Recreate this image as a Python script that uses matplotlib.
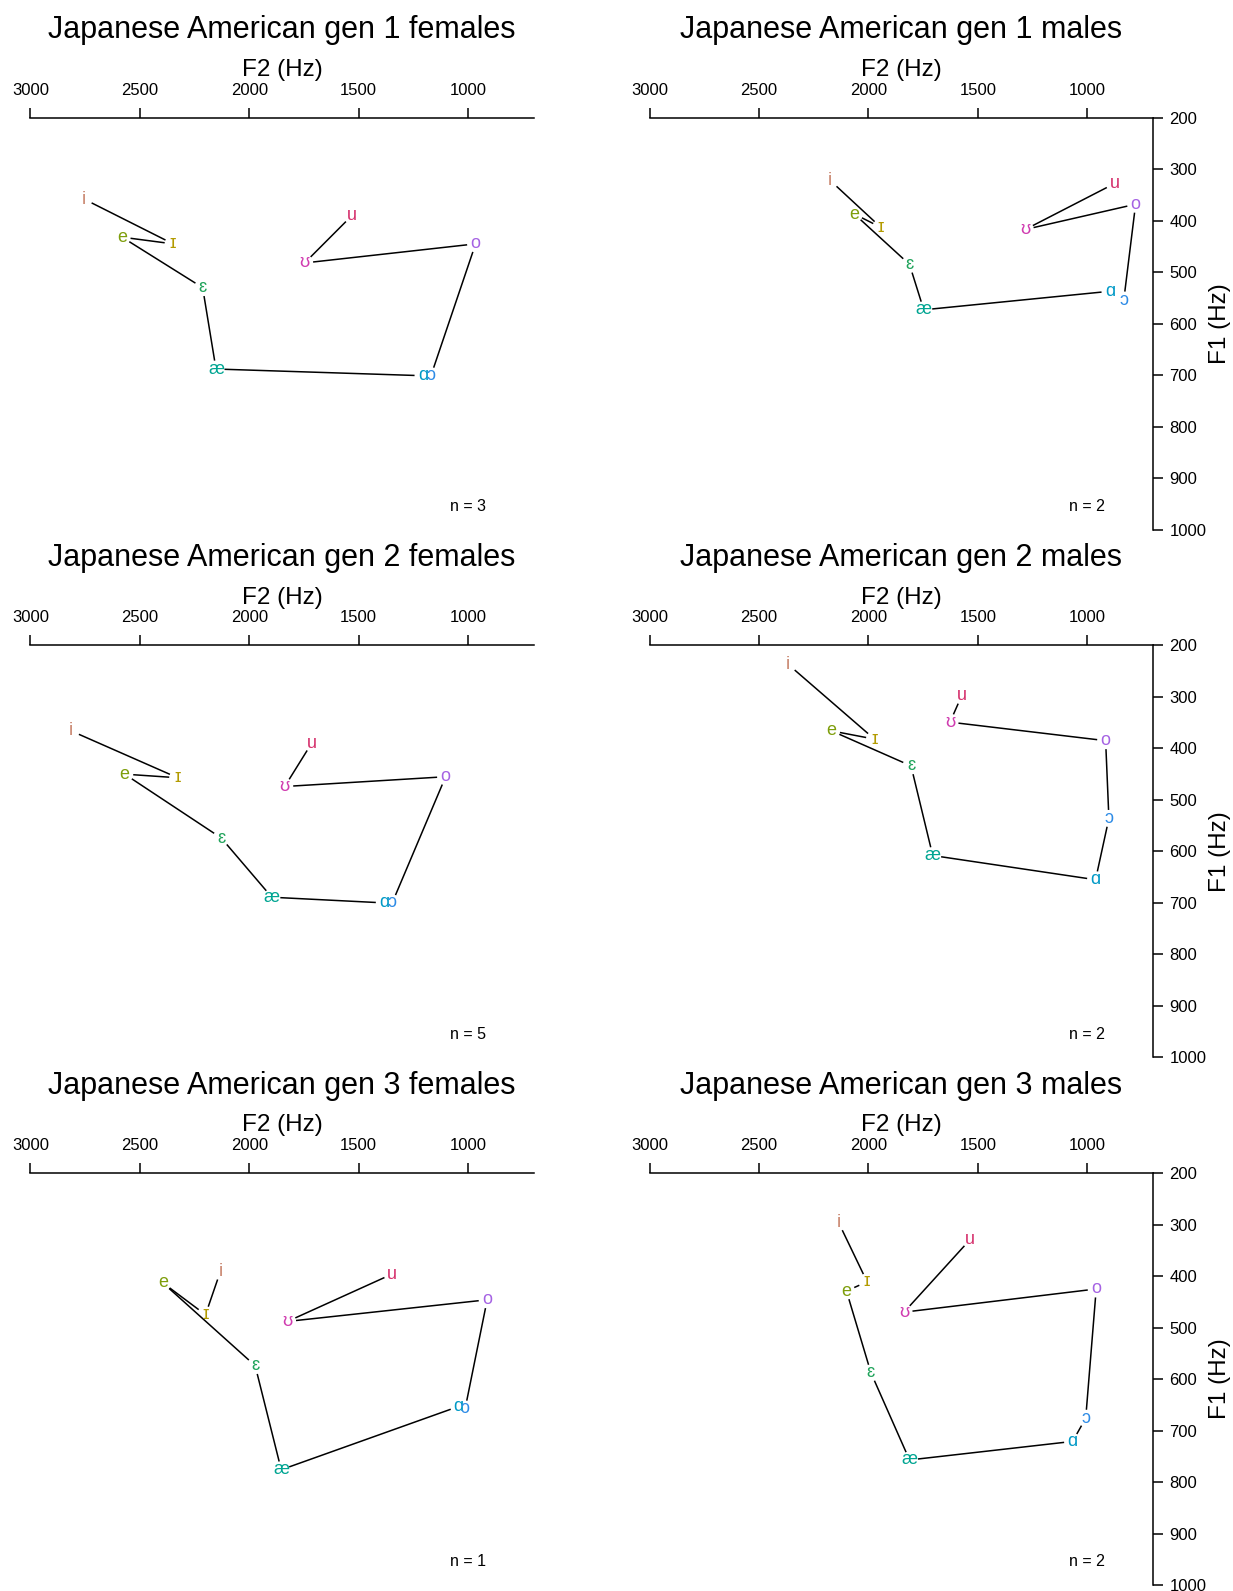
import numpy as np
import matplotlib
matplotlib.use("Agg")
import matplotlib.pyplot as plt

plt.rcParams['font.family'] = ['Liberation Sans', 'DejaVu Sans']

# vowels in drawing order (the line joins them in this order)
vowels = ['i', 'ɪ', 'e', 'ɛ', 'æ', 'ɑ', 'ɔ', 'o', 'ʊ', 'u']
vowel_colors = ['#C8826A', '#B39B00', '#7E9E0C', '#1FA35A', '#00A592',
                '#0099C6', '#2D8BE6', '#A562E3', '#D03CB0', '#D5306C']

titles = ['Japanese American gen 1 females', 'Japanese American gen 1 males',
          'Japanese American gen 2 females', 'Japanese American gen 2 males',
          'Japanese American gen 3 females', 'Japanese American gen 3 males']
n_speakers = [3, 2, 5, 2, 1, 2]

# F2 / F1 means (Hz), same vowel order as above
f2_g1f = [2755, 2348, 2581, 2213, 2152, 1206, 1170, 966, 1747, 1531]
f1_g1f = [358, 445, 432, 530, 688, 701, 701, 445, 482, 390]
f2_g1m = [2174, 1943, 2064, 1812, 1747, 896, 833, 779, 1283, 876]
f1_g1m = [322, 413, 387, 485, 573, 537, 554, 368, 417, 328]
f2_g2f = [2814, 2327, 2569, 2128, 1897, 1383, 1347, 1103, 1838, 1715]
f1_g2f = [366, 457, 450, 574, 689, 700, 700, 455, 474, 390]
f2_g2m = [2366, 1972, 2168, 1805, 1706, 962, 901, 916, 1627, 1574]
f1_g2m = [237, 382, 366, 434, 608, 655, 536, 385, 349, 298]
f2_g3f = [2132, 2200, 2395, 1973, 1854, 1043, 1014, 913, 1825, 1347]
f1_g3f = [391, 475, 413, 574, 776, 653, 658, 446, 488, 396]
f2_g3m = [2136, 2006, 2100, 1988, 1812, 1067, 1007, 959, 1837, 1535]
f1_g3m = [296, 411, 429, 588, 757, 721, 676, 425, 470, 329]

f2_all = [f2_g1f, f2_g1m, f2_g2f, f2_g2m, f2_g3f, f2_g3m]
f1_all = [f1_g1f, f1_g1m, f1_g2f, f1_g2m, f1_g3f, f1_g3m]

f2_ticks = [3000, 2500, 2000, 1500, 1000]
f1_ticks = [200, 300, 400, 500, 600, 700, 800, 900, 1000]

W, H = 1233, 1591
fig = plt.figure(figsize=(W / 100, H / 100), dpi=100)

col_left = [30.4, 649.5]
row_top = [117.7, 645.4, 1173.1]
ax_w, ax_h = 503.4, 412.0
gap = 8.5  # px left free around each label

for k in range(6):
    r, c = divmod(k, 2)
    ax = fig.add_axes([col_left[c] / W, 1 - (row_top[r] + ax_h) / H, ax_w / W, ax_h / H])
    ax.set_xlim(3000, 700)
    ax.set_ylim(1000, 200)
    for s in ['bottom', 'left']:
        ax.spines[s].set_visible(False)
    ax.spines['top'].set_linewidth(1.1)
    ax.xaxis.tick_top()
    ax.set_xticks(f2_ticks)
    ax.tick_params(axis='x', direction='out', length=7, width=1.1, pad=7.5, labelsize=12)
    if c == 1:
        ax.spines['right'].set_linewidth(1.1)
        ax.yaxis.tick_right()
        ax.set_yticks(f1_ticks)
        ax.tick_params(axis='y', direction='out', length=7, width=1.1, pad=5, labelsize=12)
        ax.text(1.134, 0.5, 'F1 (Hz)', transform=ax.transAxes, rotation=90,
                ha='center', va='center', fontsize=17.5)
    else:
        ax.spines['right'].set_visible(False)
        ax.set_yticks([])

    ax.text(0.5, 1.212, titles[k], transform=ax.transAxes, ha='center', va='center', fontsize=22)
    ax.text(0.5, 1.116, 'F2 (Hz)', transform=ax.transAxes, ha='center', va='center', fontsize=17.5)

    f2 = np.array(f2_all[k], dtype=float)
    f1 = np.array(f1_all[k], dtype=float)

    # lines between successive vowels, shortened so they stop short of the labels
    pts = ax.transData.transform(np.column_stack([f2, f1]))
    inv = ax.transData.inverted()
    for a, b in zip(pts[:-1], pts[1:]):
        d = b - a
        L = np.hypot(*d)
        if L <= 2 * gap:
            continue
        u = d / L
        seg = inv.transform(np.array([a + u * gap, b - u * gap]))
        ax.plot(seg[:, 0], seg[:, 1], color='black', lw=1.1, solid_capstyle='butt')

    for v, x, y, col in zip(vowels, f2, f1, vowel_colors):
        ax.text(x, y, v, color=col, ha='center', va='center', fontsize=13)

    ax.text(1000, 955, 'n = %d' % n_speakers[k], ha='center', va='center', fontsize=11.5)

fig.savefig('out.png', dpi=100)
